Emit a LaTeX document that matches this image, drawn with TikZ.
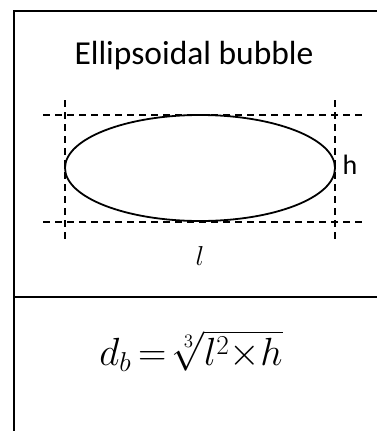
\documentclass[tikz,border=0pt]{standalone}
\usepackage{fontspec}
\setmainfont{Carlito}
\usepackage{amsmath}
\usepackage{graphicx}
\usetikzlibrary{shapes.geometric}
\begin{document}
\begin{tikzpicture}[x=1pt,y=-1pt,
  frame/.style={line width=1.8pt,black},
  guide/.style={line width=1.5pt,dash pattern=on 7pt off 5pt},
  lbl/.style={inner sep=0pt,font=\fontsize{26}{30}\selectfont}]
\useasboundingbox (0,0) rectangle (377,431);
\fill[white] (0,0) rectangle (377,431);
% frame
\draw[frame] (378,11) -- (14,11) -- (14,432);
\draw[frame] (14,297) -- (378,297);
% title
\node[lbl,font=\fontsize{33.5}{38}\selectfont] (title) at (194,56) {Ellipsoidal bubble};
% ellipse
\node[draw,line width=1.8pt,ellipse,minimum width=270pt,minimum height=106pt,inner sep=0pt] (bub) at (200,168) {};
% guides
\coordinate (tl) at (43,115); \coordinate (tr) at (362,115);
\coordinate (bl) at (43,222); \coordinate (br) at (362,222);
\coordinate (lt) at (65,100); \coordinate (lb) at (65,240);
\coordinate (rt) at (335,100); \coordinate (rb) at (335,240);
\draw[guide] (tl) -- (tr);
\draw[guide] (bl) -- (br);
\draw[guide] (lt) -- (lb);
\draw[guide] (rt) -- (rb);
\node[lbl,font=\fontsize{28}{32}\selectfont] (h) at (350,165) {h};
\node[lbl] (l) at (200,256) {\resizebox{!}{19pt}{$l$}};
% formula
\node[lbl] (f) at (191,351) {\resizebox{183pt}{!}{$d_b\,{=}\,\sqrt[3]{l^2{\times} h}$}};
\end{tikzpicture}
\end{document}
